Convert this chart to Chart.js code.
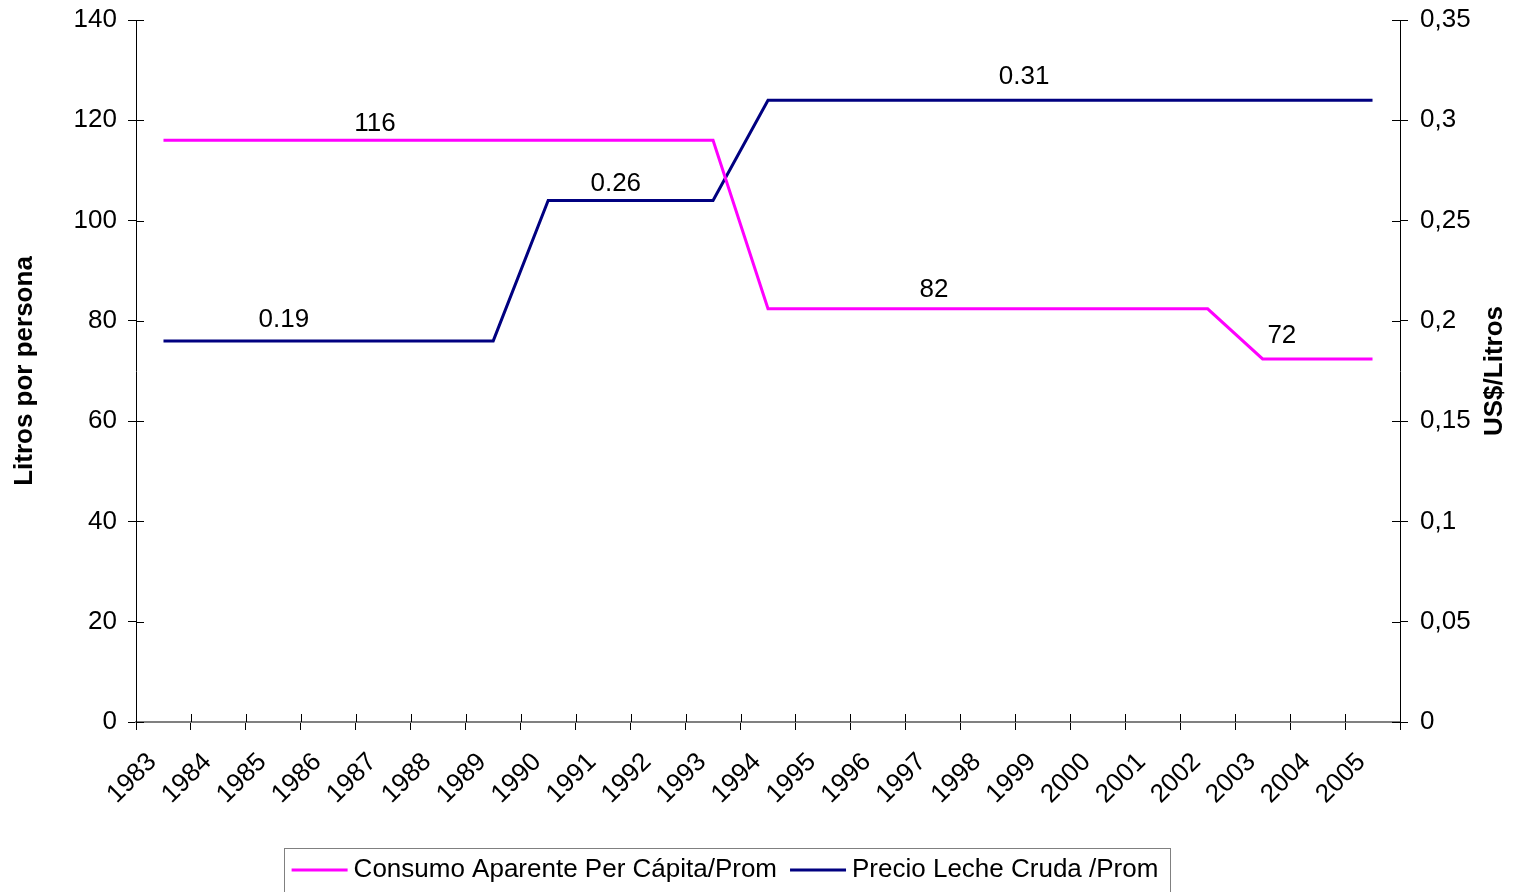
<!DOCTYPE html>
<html>
<head>
<meta charset="utf-8">
<script src="https://cdn.jsdelivr.net/npm/chart.js@4/dist/chart.umd.min.js"></script>
<style>
  html, body { margin: 0; padding: 0; background: #fff; }
  #wrap { width: 1516px; height: 892px; position: relative; }
</style>
</head>
<body>
<div id="wrap"><canvas id="c" width="1516" height="892"></canvas></div>
<script>
const years = ['1983','1984','1985','1986','1987','1988','1989','1990','1991','1992','1993','1994','1995','1996','1997','1998','1999','2000','2001','2002','2003','2004','2005'];
const consumo = [116,116,116,116,116,116,116,116,116,116,116,82.4,82.4,82.4,82.4,82.4,82.4,82.4,82.4,82.4,72.4,72.4,72.4];
const precio = [0.19,0.19,0.19,0.19,0.19,0.19,0.19,0.26,0.26,0.26,0.26,0.31,0.31,0.31,0.31,0.31,0.31,0.31,0.31,0.31,0.31,0.31,0.31];
const seriesNames = ['Consumo Aparente Per Cápita/Prom', 'Precio Leche Cruda /Prom'];
const leftTicks = { min: 0, max: 140, step: 20 };
const rightTicks = { min: 0, max: 0.35, step: 0.05 };
const leftTitle = 'Litros por persona';
const rightTitle = 'US$/Litros';
const valueLabels = [
  { ds: 0, at: 3.85, text: '116', dy: -17 },
  { ds: 1, at: 2.19, text: '0.19', dy: -21 },
  { ds: 1, at: 8.23, text: '0.26', dy: -17 },
  { ds: 1, at: 15.66, text: '0.31', dy: -23 },
  { ds: 0, at: 14.02, text: '82', dy: -19 },
  { ds: 0, at: 20.35, text: '72', dy: -23 }
];

const FONT = "'Liberation Sans', Arial, sans-serif";
const FS = 26;

const extrasPlugin = {
  id: 'extras',
  afterDraw(chart) {
    const ctx = chart.ctx;
    const x = chart.scales.x, yl = chart.scales.y, yr = chart.scales.y1;
    const area = chart.chartArea;
    ctx.save();
    // inner halves of cross ticks
    ctx.strokeStyle = '#000';
    ctx.lineWidth = 1;
    ctx.beginPath();
    yl.ticks.forEach((t, i) => {
      const py = Math.round(yl.getPixelForTick(i)) + 0.5;
      ctx.moveTo(area.left, py); ctx.lineTo(area.left + 8, py);
    });
    yr.ticks.forEach((t, i) => {
      const py = Math.round(yr.getPixelForTick(i)) + 0.5;
      ctx.moveTo(area.right - 8, py); ctx.lineTo(area.right, py);
    });
    for (let i = 0; i <= years.length; i++) {
      const px = Math.round(x.getPixelForValue(i - 0.5)) + 0.5;
      ctx.moveTo(px, area.bottom - 8); ctx.lineTo(px, area.bottom);
    }
    ctx.stroke();

    // value labels
    ctx.fillStyle = '#000';
    ctx.font = FS + 'px ' + FONT;
    ctx.textAlign = 'center';
    ctx.textBaseline = 'middle';
    valueLabels.forEach(l => {
      const data = l.ds === 0 ? consumo : precio;
      const sc = l.ds === 0 ? yl : yr;
      const v = data[Math.round(l.at)];
      ctx.fillText(l.text, x.getPixelForValue(l.at), sc.getPixelForValue(v) + l.dy);
    });

    // right axis title (reads bottom-to-top)
    ctx.save();
    ctx.translate(1495, (area.top + area.bottom) / 2);
    ctx.rotate(-Math.PI / 2);
    ctx.font = 'bold ' + FS + 'px ' + FONT;
    ctx.textAlign = 'center';
    ctx.textBaseline = 'middle';
    ctx.fillText(rightTitle, 0, 0);
    ctx.restore();

    // legend
    ctx.font = FS + 'px ' + FONT;
    const lineW = 56, gapLT = 6, gapItems = 13, padL = 8, padR = 11;
    const widths = seriesNames.map(n => ctx.measureText(n).width);
    const total = padL + lineW + gapLT + widths[0] + gapItems + lineW + gapLT + widths[1] + padR;
    const cx = 726.5;
    const bx = cx - total / 2;
    const by = 848.5;
    ctx.strokeStyle = '#808080';
    ctx.lineWidth = 1;
    ctx.strokeRect(Math.round(bx) + 0.5, by, Math.round(total), 80);
    let cxp = bx + padL;
    const ly = 870;
    chart.data.datasets.forEach((ds, i) => {
      ctx.strokeStyle = ds.borderColor;
      ctx.lineWidth = 3;
      ctx.beginPath();
      ctx.moveTo(cxp, ly); ctx.lineTo(cxp + lineW, ly);
      ctx.stroke();
      cxp += lineW + gapLT;
      ctx.fillStyle = '#000';
      ctx.textAlign = 'left';
      ctx.textBaseline = 'middle';
      ctx.fillText(ds.label, cxp, ly);
      cxp += widths[i] + gapItems;
    });
    ctx.restore();
  }
};

new Chart(document.getElementById('c'), {
  type: 'line',
  data: {
    labels: years,
    datasets: [
      { label: seriesNames[0], data: consumo, yAxisID: 'y', borderColor: '#FF00FF', backgroundColor: '#FF00FF', borderWidth: 3, pointRadius: 0, tension: 0, fill: false },
      { label: seriesNames[1], data: precio, yAxisID: 'y1', borderColor: '#000080', backgroundColor: '#000080', borderWidth: 3, pointRadius: 0, tension: 0, fill: false }
    ]
  },
  options: {
    responsive: false,
    animation: false,
    devicePixelRatio: 1,
    layout: { padding: { top: 20, left: 0, right: 0, bottom: 0 } },
    plugins: { legend: { display: false }, tooltip: { enabled: false } },
    scales: {
      x: {
        type: 'category',
        offset: true,
        grid: { offset: true, drawOnChartArea: false, drawTicks: true, tickLength: 8, color: '#000', lineWidth: 1 },
        border: { color: '#808080', width: 2 },
        ticks: { autoSkip: false, maxRotation: 45, minRotation: 45, color: '#000', font: { family: FONT, size: FS }, padding: 17, labelOffset: -11 },
        afterFit(s) { s.height = 170; }
      },
      y: {
        position: 'left',
        min: leftTicks.min, max: leftTicks.max,
        ticks: { stepSize: leftTicks.step, color: '#000', font: { family: FONT, size: FS }, padding: 11 },
        grid: { drawOnChartArea: false, drawTicks: true, tickLength: 8, color: '#000', lineWidth: 1 },
        border: { color: '#000', width: 1 },
        title: { display: true, text: leftTitle, color: '#000', font: { family: FONT, size: FS, weight: 'bold' }, padding: { top: 9, bottom: 0 } },
        afterFit(s) { s.width = 136; s.paddingTop = 0; s.paddingBottom = 0; }
      },
      y1: {
        position: 'right',
        min: rightTicks.min, max: rightTicks.max,
        ticks: { stepSize: rightTicks.step, color: '#000', font: { family: FONT, size: FS }, padding: 12,
          callback: v => String(Math.round(v * 100) / 100).replace('.', ',') },
        grid: { drawOnChartArea: false, drawTicks: true, tickLength: 8, color: '#000', lineWidth: 1 },
        border: { color: '#000', width: 1 },
        afterFit(s) { s.width = 116; s.paddingTop = 0; s.paddingBottom = 0; }
      }
    }
  },
  plugins: [extrasPlugin]
});
</script>
</body>
</html>
